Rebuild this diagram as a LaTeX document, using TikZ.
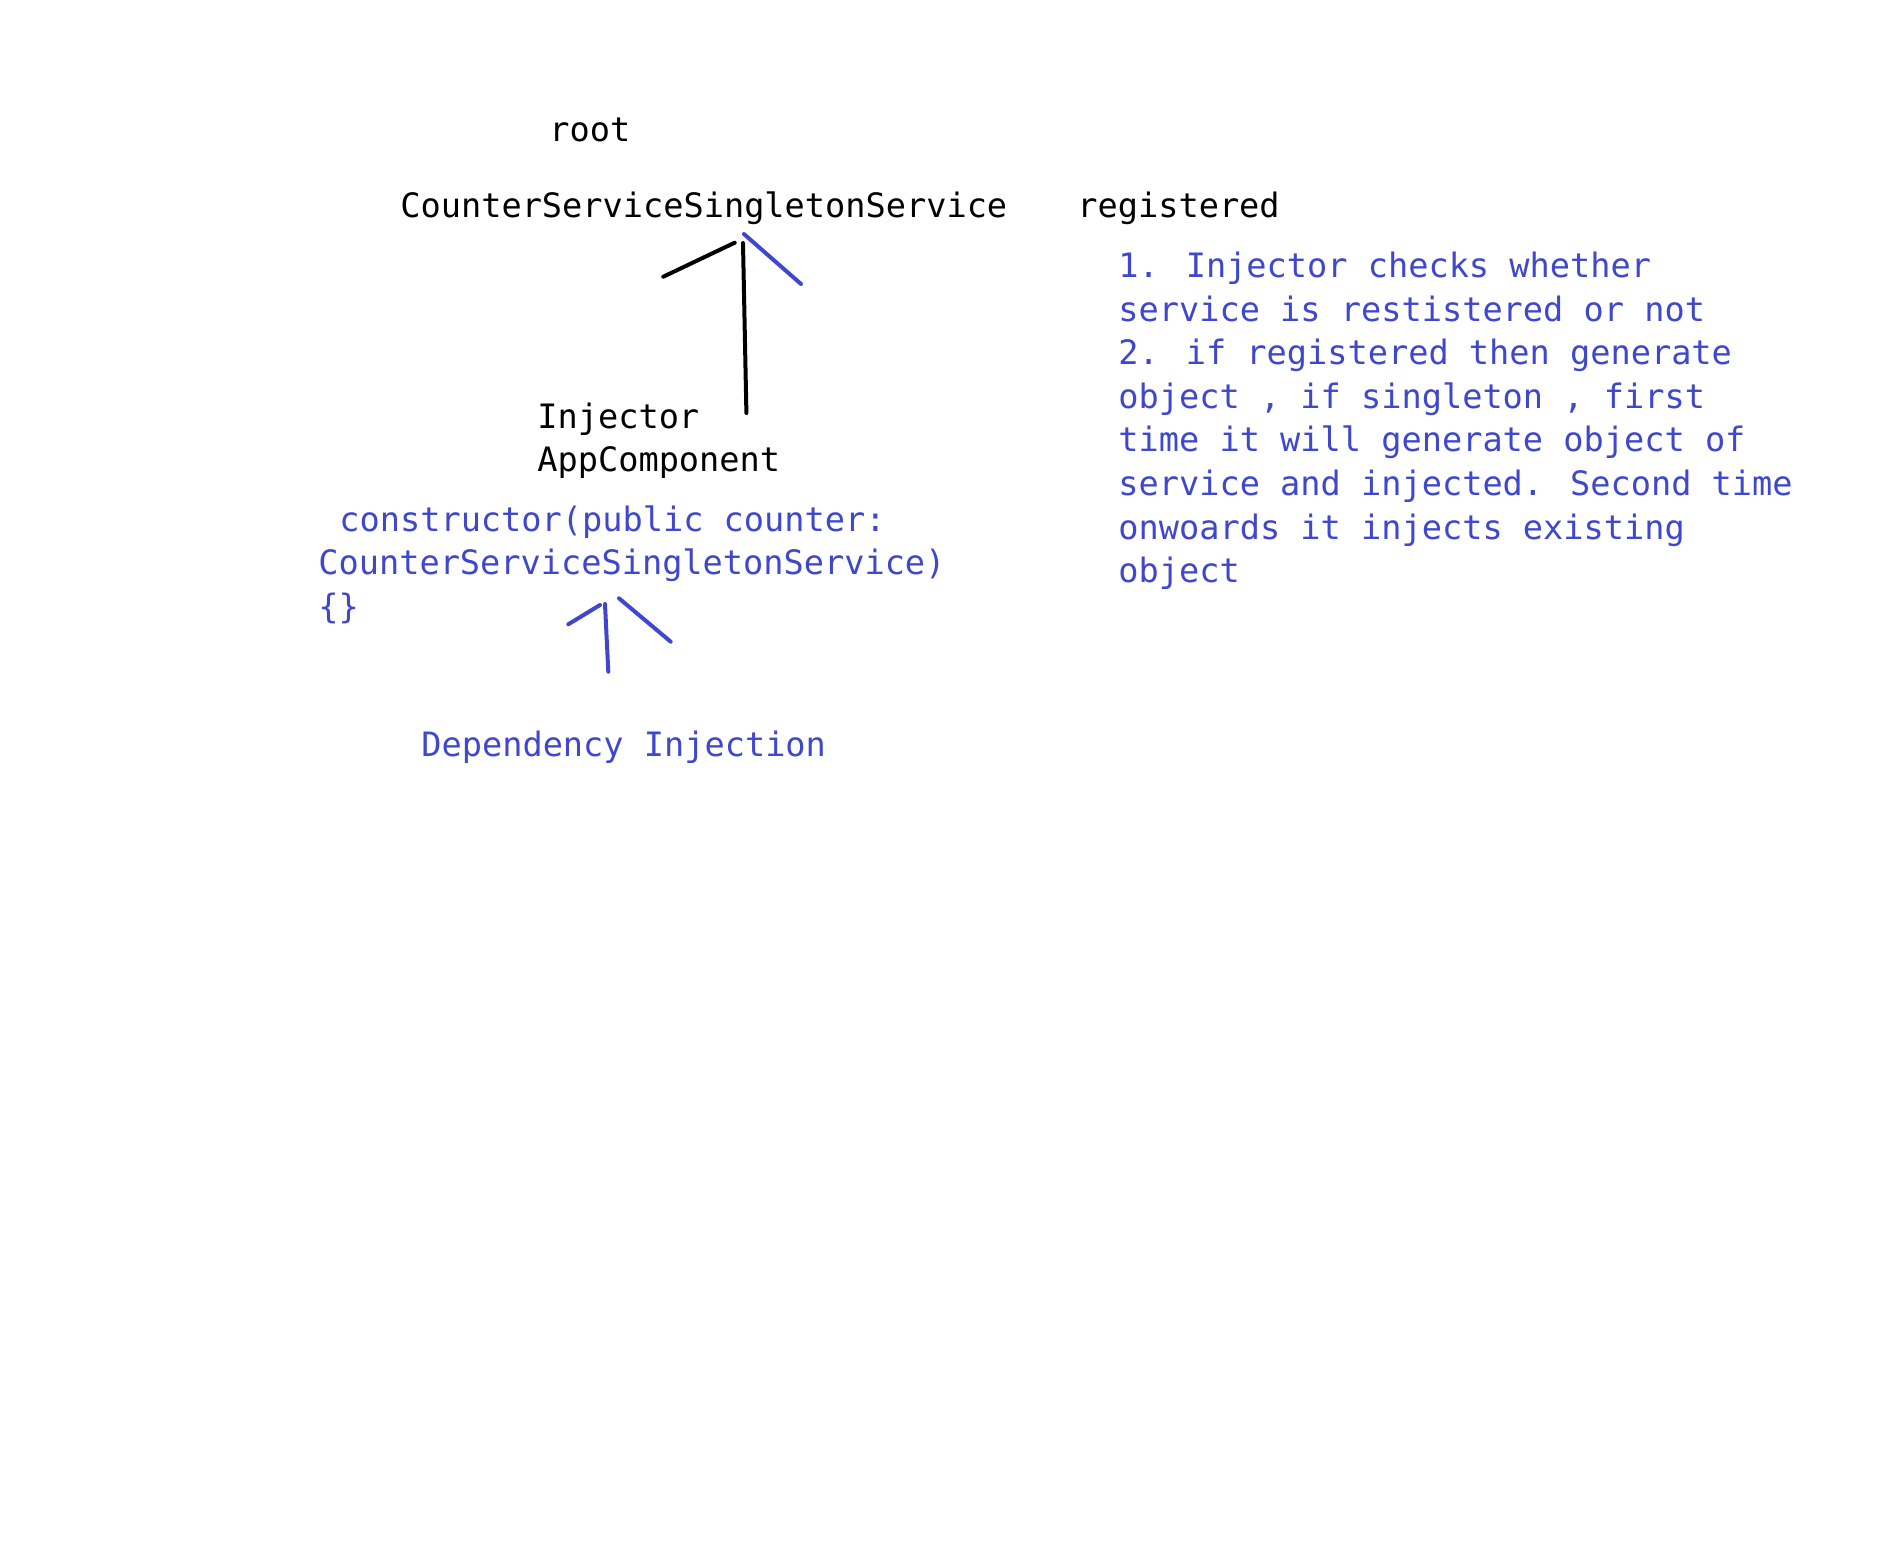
\documentclass[tikz,border=0pt]{standalone}
\usepackage{fontspec}
\newfontfamily\codefont{DejaVu Sans Mono}
\definecolor{inkblue}{HTML}{3F48CC}
\begin{document}
\begin{tikzpicture}[x=0.5pt,y=-0.5pt,
  txt/.style={anchor=base west,inner sep=0pt,font=\codefont\fontsize{16.8}{21.8}\selectfont},
  blacktxt/.style={txt,text=black},
  bluetxt/.style={txt,text=inkblue},
  stroke/.style={line width=2pt,line cap=round},
  blackstroke/.style={stroke,draw=black},
  bluestroke/.style={stroke,draw=inkblue},
]
\useasboundingbox[fill=white] (0,0) rectangle (1901,1563);

% black labels
\node[blacktxt] (root) at (549,141.5) {root};
\node[blacktxt] (css) at (400,217.5) {CounterServiceSingletonService};
\node[blacktxt] (reg) at (1077,217) {registered};
\node[blacktxt] (inj) at (537,428) {Injector};
\node[blacktxt] (app) at (537,471) {AppComponent};

% blue explanation
\node[bluetxt] (n1) at (1118,277.5) {1. Injector checks whether};
\node[bluetxt] (n2) at (1118,321.1) {service is restistered or not};
\node[bluetxt] (n3) at (1118,364.7) {2. if registered then generate};
\node[bluetxt] (n4) at (1118,408.3) {object , if singleton , first};
\node[bluetxt] (n5) at (1118,451.9) {time it will generate object of};
\node[bluetxt] (n6) at (1118,495.5) {service and injected. Second time};
\node[bluetxt] (n7) at (1118,539.1) {onwoards it injects existing};
\node[bluetxt] (n8) at (1118,582.7) {object};

% constructor code
\node[bluetxt] (c1) at (339,531) {constructor(public counter:};
\node[bluetxt] (c2) at (318,574.5) {CounterServiceSingletonService)};
\node[bluetxt] (c3) at (318,618) {\{\}};

\node[bluetxt] (di) at (421,756) {Dependency Injection};

% upper arrow (hand drawn)
\coordinate (a1bot) at (746.4,413);
\coordinate (a1top) at (743,243);
\coordinate (a1l0) at (663.3,276.7);
\coordinate (a1l1) at (734.7,242.7);
\coordinate (a1r0) at (743.9,234);
\coordinate (a1r1) at (801,284);
\draw[blackstroke] (a1bot) -- (a1top);
\draw[blackstroke] (a1l0) -- (a1l1);
\draw[bluestroke] (a1r0) -- (a1r1);

% lower arrow (hand drawn)
\coordinate (a2bot) at (608.3,671.7);
\coordinate (a2top) at (605,604);
\coordinate (a2l0) at (568.3,624.3);
\coordinate (a2l1) at (600,605);
\coordinate (a2r0) at (619,598.3);
\coordinate (a2r1) at (670.7,641.7);
\draw[bluestroke] (a2bot) -- (a2top);
\draw[bluestroke] (a2l0) -- (a2l1);
\draw[bluestroke] (a2r0) -- (a2r1);
\end{tikzpicture}
\end{document}
